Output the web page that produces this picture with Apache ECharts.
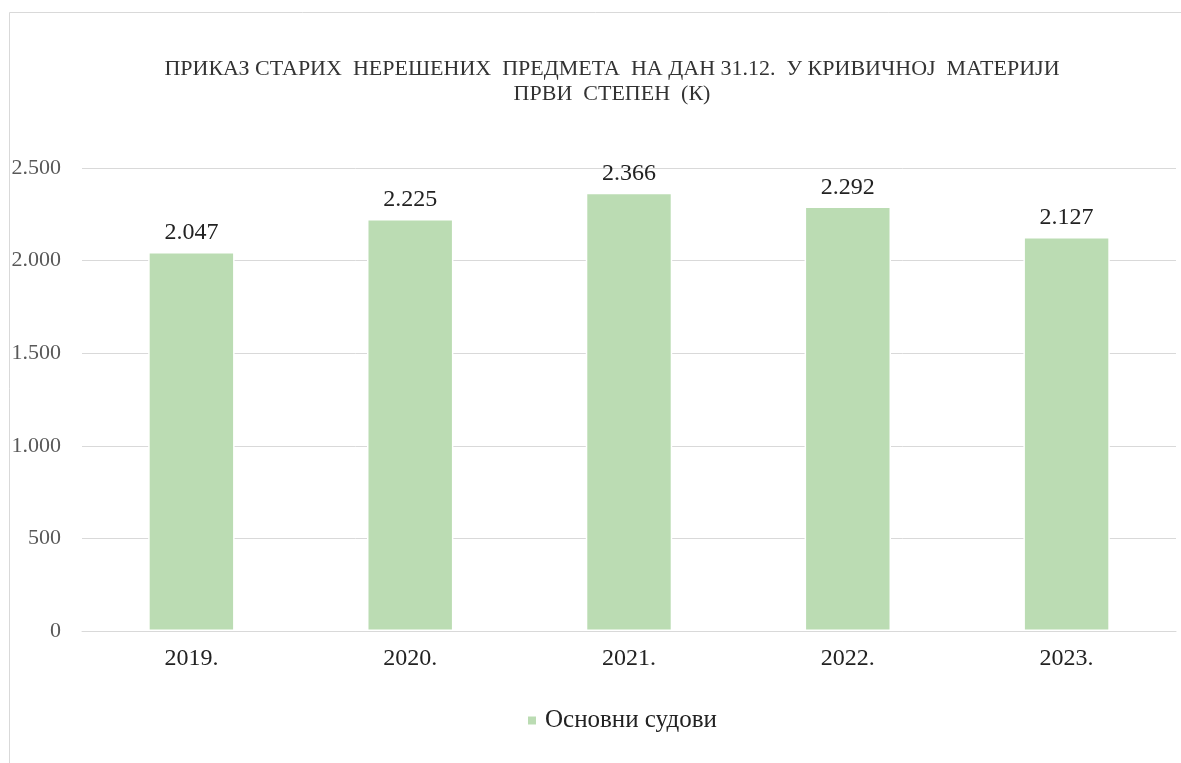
<!DOCTYPE html>
<html>
<head>
<meta charset="utf-8">
<script src="https://cdn.jsdelivr.net/npm/echarts@6/dist/echarts.min.js"></script>
<style>
  html, body { margin: 0; padding: 0; background: #fff; }
  #chart { width: 1181px; height: 763px; }
</style>
</head>
<body>
<div id="chart"></div>
<script>
const titleLines = ['ПРИКАЗ СТАРИХ  НЕРЕШЕНИХ  ПРЕДМЕТА  НА ДАН 31.12.  У КРИВИЧНОЈ  МАТЕРИЈИ', 'ПРВИ  СТЕПЕН  (К)']
const years = ['2019.', '2020.', '2021.', '2022.', '2023.']
const seriesName = 'Основни судови'
const values = [2047, 2225, 2366, 2292, 2127]

const font = '"Liberation Serif", "Times New Roman", serif'

// 2047 -> 2.047
function fmt(v) {
  return String(v).replace(/\B(?=(\d{3})+(?!\d))/g, '.')
}

const chart = echarts.init(document.getElementById('chart'))

chart.setOption({
  backgroundColor: '#fff',
  animation: false,
  graphic: [{
    type: 'rect',
    shape: { x: 9.5, y: 12.5, width: 1300, height: 900 },
    style: { fill: 'none', stroke: '#d9d9d9', lineWidth: 1 },
    silent: true
  }],
  title: {
    text: titleLines.join('\n'),
    left: 607,
    textAlign: 'center',
    top: 52,
    textStyle: {
      fontFamily: font,
      fontSize: 22,
      fontWeight: 'normal',
      color: '#333',
      lineHeight: 25
    }
  },
  legend: {
    bottom: 25,
    left: 521,
    itemWidth: 10,
    itemHeight: 10,
    icon: 'rect',
    itemGap: 6,
    textStyle: { fontFamily: font, fontSize: 25, color: '#222', padding: [0, 0, 0, 3] },
    data: [seriesName]
  },
  grid: {
    left: 82,
    right: 5,
    top: 168,
    bottom: 132,
    containLabel: false
  },
  xAxis: {
    type: 'category',
    data: years,
    axisLine: { lineStyle: { color: '#d9d9d9' } },
    axisTick: { show: false },
    axisLabel: { fontFamily: font, fontSize: 24, color: '#222', margin: 16 }
  },
  yAxis: {
    type: 'value',
    min: 0,
    max: 2500,
    interval: 500,
    axisLine: { show: false },
    axisTick: { show: false },
    axisLabel: {
      fontFamily: font,
      fontSize: 22,
      color: '#595959',
      margin: 21,
      formatter: (v) => fmt(v)
    },
    splitLine: { lineStyle: { color: '#d9d9d9', width: 1 } }
  },
  series: [{
    name: seriesName,
    type: 'bar',
    data: values,
    barWidth: '39.5%',
    itemStyle: { color: '#bbdcb3', borderColor: '#fff', borderWidth: 1.5 },
    label: {
      show: true,
      position: 'top',
      distance: 7,
      fontFamily: font,
      fontSize: 24,
      color: '#222',
      formatter: (p) => fmt(p.value)
    }
  }]
})
</script>
</body>
</html>
